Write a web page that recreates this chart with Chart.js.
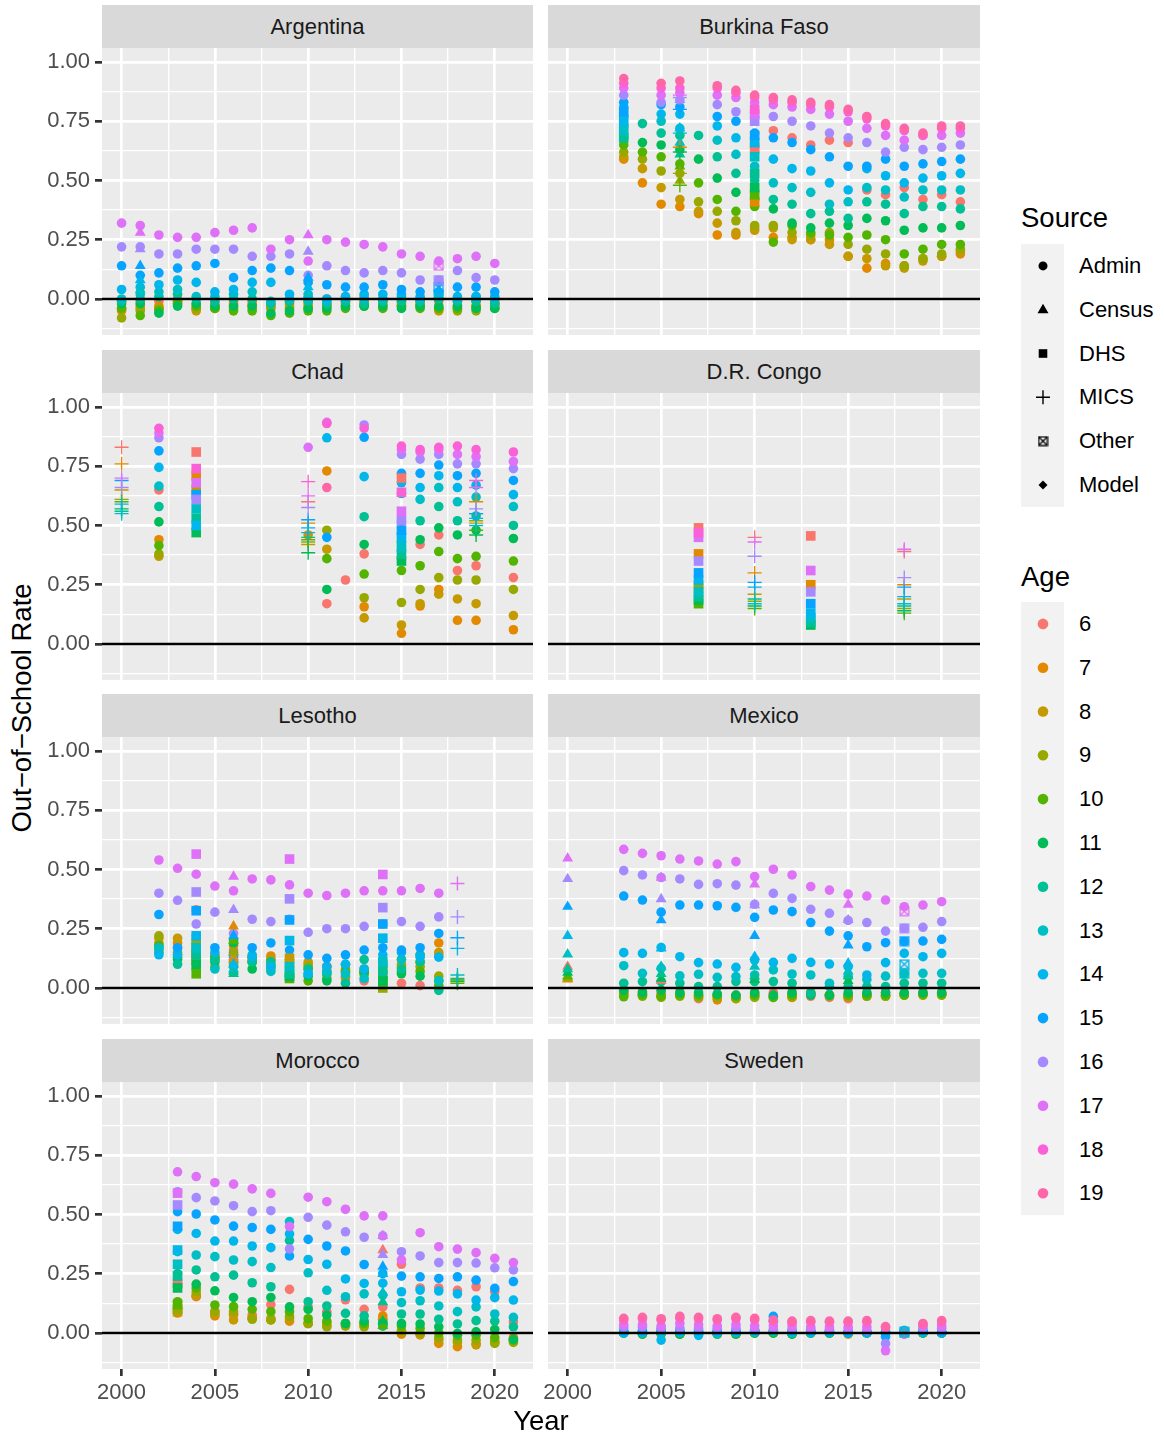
<!DOCTYPE html>
<html>
<head>
<meta charset="utf-8">
<script src="https://cdn.jsdelivr.net/npm/chart.js@4.4.1/dist/chart.umd.min.js"></script>
<style>
  body { margin: 0; background: #fff; width: 1164px; height: 1437px; position: relative; overflow: hidden;
         font-family: "Liberation Sans", Arial, sans-serif; }
  .strip { position: absolute; background: #D9D9D9; color: #1A1A1A; font-size: 22px; text-align: center; height: 43px; line-height: 43px; }
  .txt { position: absolute; white-space: nowrap; }
  canvas { position: absolute; }
</style>
</head>
<body>
<script>
// tick labels / breaks
const xBreaks = [2000, 2005, 2010, 2015, 2020];
const yBreaks = [0, 0.25, 0.5, 0.75, 1];
const ageLevels = [6, 7, 8, 9, 10, 11, 12, 13, 14, 15, 16, 17, 18, 19];
const sourceLevels = ["Admin", "Census", "DHS", "MICS", "Other", "Model"];

// ---- Argentina ----
const argYears = [2000,2001,2002,2003,2004,2005,2006,2007,2008,2009,2010,2011,2012,2013,2014,2015,2016,2017,2018,2019,2020];
const argAges = [6,7,8,9,10,11,12,13,14,15,16,17];
const argAdmin = [
  [-0.01,-0.01,-0.01,0.00,-0.02,-0.02,-0.01,-0.01,-0.02,-0.01,-0.01,0.00,0.01,0.01,0.00,-0.01,-0.01,-0.01,-0.01,-0.01,-0.01],
  [-0.05,-0.03,-0.03,-0.01,-0.04,-0.04,-0.02,-0.03,-0.03,-0.02,-0.02,-0.02,-0.01,-0.01,-0.01,-0.02,-0.02,-0.04,-0.03,-0.03,-0.02],
  [-0.04,-0.04,-0.04,-0.01,-0.05,-0.04,-0.03,-0.02,-0.03,-0.03,-0.03,-0.03,-0.02,-0.02,-0.02,-0.03,-0.03,-0.05,-0.04,-0.04,-0.02],
  [-0.08,-0.05,-0.04,-0.02,-0.04,-0.03,-0.04,-0.04,-0.04,-0.04,-0.04,-0.03,-0.03,-0.03,-0.03,-0.03,-0.03,-0.04,-0.05,-0.05,-0.03],
  [-0.04,-0.07,-0.05,-0.02,-0.03,-0.04,-0.05,-0.05,-0.07,-0.06,-0.05,-0.05,-0.04,-0.03,-0.04,-0.03,-0.04,-0.04,-0.04,-0.03,-0.04],
  [-0.02,-0.02,-0.06,-0.03,-0.02,-0.03,-0.03,-0.03,-0.06,-0.05,-0.04,-0.04,-0.03,-0.03,-0.03,-0.04,-0.03,-0.03,-0.03,-0.04,-0.04],
  [-0.01,0.00,0.01,0.02,0.00,-0.01,0.00,0.00,-0.02,-0.01,-0.01,-0.02,-0.01,-0.02,-0.01,-0.01,-0.01,0.00,-0.01,-0.01,-0.02],
  [0.00,0.02,0.03,0.04,0.01,0.01,0.02,0.03,-0.01,0.00,0.00,-0.01,0.00,0.00,0.00,0.01,0.00,0.02,0.00,0.01,0.00],
  [0.04,0.05,0.06,0.08,0.07,0.03,0.04,0.07,0.07,0.02,0.02,0.00,0.01,0.02,0.02,0.02,0.01,0.03,0.01,0.01,0.01],
  [0.14,0.10,0.11,0.13,0.14,0.15,0.09,0.12,0.13,0.12,0.07,0.06,0.05,0.05,0.06,0.04,0.03,0.07,0.05,0.05,0.03],
  [0.22,0.22,0.19,0.19,0.21,0.21,0.21,0.18,0.18,0.19,0.10,0.14,0.12,0.11,0.12,0.11,0.08,0.08,0.12,0.09,0.08],
  [0.32,0.31,0.27,0.26,0.26,0.28,0.29,0.30,0.21,0.25,0.16,0.25,0.24,0.23,0.22,0.19,0.18,0.16,0.17,0.18,0.15]
];
const argSurvey = [
  ["Census",2001,17,0.28],["Census",2001,16,0.21],["Census",2001,15,0.14],["Census",2001,14,0.08],["Census",2001,13,0.04],
  ["Census",2010,17,0.27],["Census",2010,16,0.20],["Census",2010,15,0.09],["Census",2010,14,0.05],["Census",2010,13,0.02],
  ["Other",2017,17,0.14],["Other",2017,16,0.08],["Other",2017,15,0.05],["Other",2017,14,0.02]
];

// ---- Burkina Faso ----
const bfaYears = [2003,2004,2005,2006,2007,2008,2009,2010,2011,2012,2013,2014,2015,2016,2017,2018,2019,2020,2021];
const bfaAges = [6,7,8,9,10,11,12,13,14,15,16,17,18,19];
const bfaAdmin = [
  [null,null,null,null,null,null,null,0.64,0.71,0.68,0.65,0.67,0.66,0.46,0.44,0.47,0.42,0.44,0.41],
  [0.59,0.49,0.40,0.39,0.36,0.27,0.27,0.30,0.26,0.26,0.25,0.25,0.18,0.13,0.15,0.14,0.17,0.18,0.19],
  [0.60,0.55,0.47,0.42,0.37,0.32,0.28,0.29,0.30,0.25,0.25,0.23,0.18,0.17,0.14,0.13,0.16,0.18,0.20],
  [0.62,0.59,0.54,0.53,0.41,0.37,0.33,0.31,0.31,0.28,0.27,0.28,0.23,0.21,0.19,0.14,0.17,0.19,0.21],
  [0.65,0.62,0.60,0.57,0.49,0.42,0.37,0.39,0.24,0.31,0.28,0.27,0.26,0.27,0.25,0.19,0.21,0.23,0.23],
  [0.68,0.66,0.65,0.63,0.59,0.51,0.45,0.42,0.38,0.32,0.30,0.32,0.31,0.34,0.33,0.29,0.30,0.30,0.31],
  [0.73,0.74,0.70,0.69,0.69,0.60,0.53,0.50,0.42,0.40,0.36,0.37,0.34,0.41,0.40,0.36,0.39,0.39,0.38],
  [0.77,null,0.75,0.72,null,0.67,0.61,0.56,0.49,0.47,0.45,0.40,0.41,0.47,0.46,0.43,0.46,0.46,0.46],
  [0.81,null,0.78,0.78,null,0.73,0.68,0.62,0.59,0.55,0.54,0.49,0.46,0.55,0.52,0.49,0.51,0.52,0.53],
  [0.83,null,0.82,0.81,null,0.77,0.75,0.70,0.68,0.66,0.63,0.60,0.56,0.56,0.59,0.56,0.57,0.58,0.59],
  [0.86,null,0.83,0.84,null,0.82,0.79,0.77,0.77,0.75,0.73,0.70,0.68,0.66,0.62,0.64,0.63,0.64,0.65],
  [0.89,null,0.86,0.87,null,0.86,0.85,0.83,0.82,0.81,0.80,0.78,0.75,0.72,0.69,0.67,0.69,0.69,0.70],
  [0.91,null,0.89,0.89,null,0.89,0.87,0.85,0.84,0.83,0.82,0.81,0.79,0.76,0.73,0.71,0.69,0.72,0.72],
  [0.93,null,0.91,0.92,null,0.90,0.88,0.86,0.85,0.84,0.83,0.82,0.80,0.77,0.74,0.72,0.70,0.73,0.73]
];
const bfaSurvey = [
  ["DHS",2003,15,0.79],["DHS",2003,14,0.75],["DHS",2003,13,0.71],["DHS",2003,12,0.68],
  ["Census",2006,16,0.84],["Census",2006,14,0.72],["Census",2006,13,0.66],["Census",2006,12,0.61],["Census",2006,10,0.56],["Census",2006,9,0.50],
  ["MICS",2006,17,0.86],["MICS",2006,16,0.85],["MICS",2006,15,0.80],["MICS",2006,13,0.70],["MICS",2006,7,0.64],["MICS",2006,11,0.62],["MICS",2006,9,0.53],["MICS",2006,10,0.48],
  ["DHS",2010,18,0.80],["DHS",2010,17,0.78],["DHS",2010,16,0.75],["DHS",2010,15,0.69],["DHS",2010,14,0.66],["DHS",2010,6,0.64],
  ["DHS",2010,13,0.60],["DHS",2010,12,0.53],["DHS",2010,11,0.47],["DHS",2010,10,0.44],["DHS",2010,7,0.41]
];

// ---- Chad ----
const tcdYears = [2002,2010,2011,2012,2013,2015,2016,2017,2018,2019,2021];
const tcdAges = [6,7,8,9,10,11,12,13,14,15,16,17,18,19];
const tcdAdmin = [
  [0.65,null,0.17,0.27,0.38,0.36,0.42,0.46,0.31,0.33,0.28],
  [0.44,0.46,0.73,null,0.157,0.045,0.16,0.23,0.10,0.10,0.06],
  [0.37,null,0.40,null,0.11,0.08,0.17,0.21,0.19,0.17,0.12],
  [0.38,null,0.48,null,0.195,0.175,0.23,0.28,0.27,0.27,0.23],
  [0.415,null,0.36,null,0.295,0.31,0.33,0.39,0.36,0.37,0.35],
  [0.515,null,0.23,null,0.42,0.43,0.44,0.49,0.46,0.48,0.445],
  [0.58,null,null,null,0.537,0.516,0.52,0.58,0.52,0.54,0.50],
  [0.666,null,null,null,null,0.635,0.61,0.66,0.60,0.62,0.58],
  [0.745,null,0.87,null,0.706,0.68,0.66,0.71,0.66,0.67,0.63],
  [0.815,null,0.45,null,0.872,0.72,0.72,0.755,0.71,0.72,0.69],
  [0.87,null,null,null,0.924,0.80,0.78,0.80,0.76,0.76,0.74],
  [0.89,0.83,0.935,null,null,0.82,0.81,0.82,0.80,0.79,0.77],
  [0.91,null,0.93,null,0.91,0.835,0.82,0.83,0.835,0.82,0.81],
  [null,null,0.66,null,null,null,null,null,null,null,null]
];
const tcdSurvey = [
  ["MICS",2000,6,0.83],["MICS",2000,7,0.76],["MICS",2000,17,0.70],["MICS",2000,15,0.69],["MICS",2000,16,0.66],["MICS",2000,8,0.65],
  ["MICS",2000,9,0.61],["MICS",2000,10,0.60],["MICS",2000,14,0.59],["MICS",2000,11,0.57],["MICS",2000,12,0.56],["MICS",2000,13,0.55],
  ["DHS",2004,6,0.81],["DHS",2004,18,0.74],["DHS",2004,7,0.71],["DHS",2004,17,0.68],["DHS",2004,8,0.65],["DHS",2004,15,0.63],
  ["DHS",2004,16,0.61],["DHS",2004,13,0.57],["DHS",2004,12,0.53],["DHS",2004,14,0.50],["DHS",2004,11,0.47],
  ["MICS",2010,18,0.685],["MICS",2010,17,0.625],["MICS",2010,6,0.60],["MICS",2010,16,0.576],["MICS",2010,15,0.524],["MICS",2010,7,0.51],
  ["MICS",2010,14,0.49],["MICS",2010,13,0.47],["MICS",2010,12,0.45],["MICS",2010,10,0.44],["MICS",2010,9,0.43],["MICS",2010,8,0.42],["MICS",2010,11,0.385],
  ["DHS",2015,6,0.70],["DHS",2015,18,0.64],["DHS",2015,17,0.56],["DHS",2015,16,0.52],["DHS",2015,15,0.48],["DHS",2015,14,0.45],
  ["DHS",2015,13,0.41],["DHS",2015,12,0.38],["DHS",2015,11,0.35],
  ["MICS",2019,18,0.69],["MICS",2019,17,0.66],["MICS",2019,7,0.60],["MICS",2019,16,0.57],["MICS",2019,15,0.55],["MICS",2019,12,0.55],
  ["MICS",2019,14,0.53],["MICS",2019,9,0.52],["MICS",2019,8,0.51],["MICS",2019,13,0.50],["MICS",2019,10,0.48],["MICS",2019,11,0.46]
];

// ---- D.R. Congo ----
const codYears = [];
const codAges = [];
const codAdmin = [];
const codSurvey = [
  ["DHS",2007,6,0.49],["DHS",2007,18,0.47],["DHS",2007,17,0.45],["DHS",2007,7,0.38],["DHS",2007,16,0.35],["DHS",2007,15,0.30],
  ["DHS",2007,14,0.27],["DHS",2007,8,0.25],["DHS",2007,9,0.235],["DHS",2007,13,0.22],["DHS",2007,12,0.20],["DHS",2007,11,0.185],["DHS",2007,10,0.17],
  ["MICS",2010,6,0.45],["MICS",2010,17,0.43],["MICS",2010,16,0.37],["MICS",2010,7,0.30],["MICS",2010,15,0.26],["MICS",2010,14,0.24],
  ["MICS",2010,8,0.21],["MICS",2010,12,0.19],["MICS",2010,9,0.18],["MICS",2010,13,0.17],["MICS",2010,11,0.16],["MICS",2010,10,0.15],
  ["DHS",2013,6,0.456],["DHS",2013,17,0.31],["DHS",2013,7,0.25],["DHS",2013,16,0.22],["DHS",2013,15,0.17],["DHS",2013,14,0.13],
  ["DHS",2013,13,0.11],["DHS",2013,12,0.09],["DHS",2013,11,0.08],
  ["MICS",2018,17,0.40],["MICS",2018,6,0.39],["MICS",2018,16,0.28],["MICS",2018,7,0.25],["MICS",2018,15,0.24],["MICS",2018,14,0.20],
  ["MICS",2018,8,0.19],["MICS",2018,13,0.17],["MICS",2018,12,0.16],["MICS",2018,9,0.15],["MICS",2018,11,0.14],["MICS",2018,10,0.13]
];

// ---- Lesotho ----
const lsoYears = [2002,2003,2004,2005,2006,2007,2008,2009,2010,2011,2012,2013,2014,2015,2016,2017];
const lsoAges = [6,7,8,9,10,11,12,13,14,15,16,17];
const lsoAdmin = [
  [0.16,0.17,0.33,0.14,0.16,0.13,0.12,0.10,0.08,0.07,0.04,0.03,0.04,0.02,0.01,0.14],
  [0.19,0.19,0.17,0.13,0.18,0.11,0.135,0.09,0.10,0.09,0.08,0.07,0.10,0.12,0.14,0.19],
  [0.21,0.21,0.15,0.12,0.10,0.12,0.12,0.12,0.11,0.09,0.07,0.06,0.09,0.10,0.11,0.15],
  [0.22,0.15,0.12,0.09,0.15,0.13,0.08,0.12,0.09,0.06,0.05,0.08,0.07,0.09,0.09,0.05],
  [0.18,0.13,0.08,0.13,0.20,0.11,0.10,0.06,0.03,0.04,0.07,0.06,0.04,0.07,0.07,0.01],
  [0.17,0.12,0.13,0.11,0.19,0.08,0.09,0.05,0.05,0.03,0.10,0.07,0.05,0.06,0.05,0.03],
  [0.15,0.10,0.10,0.12,0.09,0.11,0.11,0.09,0.08,0.06,0.02,0.12,0.06,0.08,0.11,-0.01],
  [0.17,0.14,0.14,0.08,0.11,0.14,0.07,0.11,0.06,0.07,0.06,0.04,0.11,0.12,0.14,0.03],
  [0.14,0.14,0.19,0.15,0.13,0.13,0.09,0.08,0.06,0.09,0.10,0.08,0.14,0.15,0.13,0.13],
  [0.31,0.17,0.22,0.17,0.14,0.17,0.19,0.16,0.14,0.125,0.14,0.16,0.17,0.16,0.17,0.23],
  [0.40,0.37,0.27,0.32,0.23,0.29,0.28,0.29,0.235,0.25,0.25,0.26,0.27,0.28,0.26,0.30],
  [0.54,0.505,0.48,0.43,0.41,0.46,0.456,0.435,0.40,0.39,0.40,0.41,0.41,0.41,0.42,0.40]
];
const lsoSurvey = [
  ["DHS",2004,17,0.565],["DHS",2004,16,0.405],["DHS",2004,15,0.326],["DHS",2004,14,0.22],["DHS",2004,9,0.19],["DHS",2004,13,0.17],
  ["DHS",2004,7,0.15],["DHS",2004,12,0.14],["DHS",2004,8,0.12],["DHS",2004,11,0.10],["DHS",2004,10,0.06],
  ["Census",2006,17,0.47],["Census",2006,16,0.33],["Census",2006,7,0.26],["Census",2006,15,0.22],["Census",2006,10,0.20],["Census",2006,9,0.15],
  ["Census",2006,6,0.13],["Census",2006,8,0.12],["Census",2006,14,0.10],["Census",2006,13,0.08],["Census",2006,11,0.07],["Census",2006,12,0.06],
  ["DHS",2009,17,0.544],["DHS",2009,16,0.376],["DHS",2009,15,0.287],["DHS",2009,14,0.20],["DHS",2009,8,0.125],["DHS",2009,13,0.09],
  ["DHS",2009,12,0.06],["DHS",2009,11,0.05],["DHS",2009,10,0.04],
  ["DHS",2014,17,0.479],["DHS",2014,16,0.339],["DHS",2014,15,0.27],["DHS",2014,14,0.21],["DHS",2014,13,0.11],["DHS",2014,12,0.08],
  ["DHS",2014,11,0.03],["DHS",2014,10,0.02],["DHS",2014,9,0.0],
  ["MICS",2018,17,0.441],["MICS",2018,16,0.30],["MICS",2018,15,0.212],["MICS",2018,14,0.167],["MICS",2018,13,0.055],["MICS",2018,12,0.04],
  ["MICS",2018,9,0.035],["MICS",2018,8,0.03],["MICS",2018,11,0.028],["MICS",2018,10,0.02]
];

// ---- Mexico ----
const mexYears = [2003,2004,2005,2006,2007,2008,2009,2010,2011,2012,2013,2014,2015,2016,2017,2018,2019,2020];
const mexAges = [6,7,8,9,10,11,12,13,14,15,16,17];
const mexAdmin = [
  [-0.015,-0.015,-0.02,-0.02,-0.045,-0.03,-0.03,-0.02,-0.02,-0.02,-0.035,-0.04,-0.045,-0.025,-0.02,-0.03,-0.02,-0.02],
  [-0.02,-0.025,-0.03,-0.025,-0.03,-0.05,-0.045,-0.03,-0.03,-0.04,-0.025,-0.03,-0.04,-0.03,-0.03,-0.025,-0.025,-0.025],
  [-0.025,-0.03,-0.035,-0.03,-0.035,-0.035,-0.04,-0.035,-0.035,-0.04,-0.025,-0.03,-0.03,-0.035,-0.035,-0.025,-0.03,-0.03],
  [-0.03,-0.035,-0.04,-0.035,-0.04,-0.04,-0.045,-0.04,-0.04,-0.035,-0.025,-0.035,-0.035,-0.035,-0.035,-0.03,-0.03,-0.03],
  [-0.037,-0.03,-0.035,-0.03,-0.03,-0.03,-0.035,-0.03,-0.04,-0.03,-0.02,-0.03,-0.03,-0.03,-0.03,-0.03,-0.025,-0.025],
  [-0.01,-0.02,-0.01,-0.02,-0.02,-0.025,-0.03,-0.02,-0.03,-0.02,-0.03,-0.03,-0.02,-0.02,-0.02,-0.02,-0.02,-0.02],
  [0.02,0.027,0.027,0.02,0.006,0.006,0.027,0.027,0.027,0.02,-0.022,0.006,0.006,0.006,0.006,0.02,0.02,0.02],
  [0.094,0.062,0.083,0.051,0.058,0.045,0.048,0.055,0.076,0.059,0.055,0.02,0.048,0.036,0.05,0.06,0.062,0.062],
  [0.149,0.146,0.171,0.132,0.107,0.101,0.087,0.118,0.108,0.125,0.108,0.101,0.09,0.055,0.107,0.146,0.132,0.146],
  [0.388,0.371,0.32,0.35,0.35,0.347,0.34,0.298,0.329,0.322,0.276,0.24,0.22,0.174,0.191,0.196,0.198,0.205],
  [0.495,0.477,0.466,0.46,0.437,0.44,0.434,0.353,0.399,0.378,0.332,0.315,0.285,0.276,0.24,0.252,0.256,0.28],
  [0.585,0.568,0.558,0.544,0.536,0.523,0.533,0.47,0.501,0.477,0.428,0.413,0.396,0.388,0.371,0.343,0.35,0.364]
];
const mexSurvey = [
  ["Census",2000,17,0.547],["Census",2000,16,0.46],["Census",2000,15,0.343],["Census",2000,14,0.22],["Census",2000,13,0.142],["Census",2000,6,0.09],
  ["Census",2000,12,0.08],["Census",2000,11,0.065],["Census",2000,10,0.05],["Census",2000,9,0.045],["Census",2000,8,0.04],["Census",2000,7,0.036],
  ["Census",2005,17,0.466],["Census",2005,16,0.375],["Census",2005,15,0.286],["Census",2005,14,0.167],["Census",2005,13,0.09],["Census",2005,12,0.06],
  ["Census",2005,11,0.04],["Census",2005,6,0.031],
  ["Census",2010,17,0.437],["Census",2010,16,0.35],["Census",2010,15,0.22],["Census",2010,14,0.132],["Census",2010,13,0.09],["Census",2010,12,0.05],["Census",2010,11,0.034],
  ["Census",2015,17,0.352],["Census",2015,16,0.287],["Census",2015,15,0.18],["Census",2015,14,0.104],["Census",2015,13,0.07],["Census",2015,12,0.05],["Census",2015,11,0.03],
  ["Other",2018,17,0.324],["Other",2018,16,0.252],["Other",2018,15,0.198],["Other",2018,14,0.10],["Other",2018,13,0.06]
];

// ---- Morocco ----
const marYears = [2003,2004,2005,2006,2007,2008,2009,2010,2011,2012,2013,2014,2015,2016,2017,2018,2019,2020,2021];
const marAges = [6,7,8,9,10,11,12,13,14,15,16,17];
const marAdmin = [
  [0.21,0.153,0.09,0.08,0.076,0.12,0.184,0.11,0.09,0.14,0.10,0.11,0.29,0.19,0.19,0.18,0.195,0.174,0.047],
  [0.084,0.155,0.072,0.076,0.065,0.055,0.05,0.04,0.04,0.04,0.04,0.072,-0.005,-0.008,-0.044,-0.058,-0.045,-0.035,-0.02],
  [0.09,0.16,0.08,0.055,0.06,0.06,0.06,0.04,0.03,0.03,0.03,0.03,0.005,-0.005,-0.03,-0.04,-0.05,-0.04,-0.03],
  [0.10,0.174,0.09,0.09,0.058,0.055,0.07,0.04,0.026,0.03,0.026,0.03,0.01,0.0,-0.02,-0.03,-0.03,-0.044,-0.04],
  [0.132,0.19,0.118,0.111,0.10,0.09,0.09,0.06,0.05,0.04,0.04,0.04,0.03,0.02,0.0,-0.01,-0.01,-0.02,-0.03],
  [0.195,0.206,0.178,0.15,0.132,0.15,0.11,0.10,0.076,0.04,0.05,0.05,0.04,0.038,0.026,-0.002,0.005,0.015,-0.027],
  [0.251,0.266,0.237,0.244,0.212,0.195,0.39,0.132,0.114,0.083,0.072,0.03,0.08,0.08,0.058,0.038,0.052,0.05,0.026],
  [0.343,0.329,0.322,0.308,0.301,0.276,0.47,0.254,0.18,0.153,0.165,0.16,0.128,0.136,0.114,0.09,0.11,0.08,0.066],
  [0.437,0.42,0.388,0.388,0.367,0.36,0.418,0.31,0.29,0.228,0.209,0.21,0.174,0.181,0.177,0.165,0.139,0.149,0.139],
  [0.512,0.502,0.477,0.451,0.445,0.437,0.325,0.395,0.367,0.346,0.289,0.25,0.24,0.237,0.23,0.237,0.223,0.188,0.217],
  [0.596,0.571,0.557,0.537,0.512,0.516,0.355,0.488,0.455,0.427,0.404,0.41,0.343,0.325,0.297,0.297,0.295,0.275,0.266],
  [0.68,0.66,0.634,0.628,0.608,0.589,0.449,0.573,0.554,0.522,0.494,0.494,0.308,0.423,0.364,0.354,0.339,0.315,0.297]
];
const marSurvey = [
  ["DHS",2003,17,0.59],["DHS",2003,16,0.54],["DHS",2003,15,0.45],["DHS",2003,14,0.35],["DHS",2003,13,0.29],["DHS",2003,12,0.24],
  ["DHS",2003,6,0.21],["DHS",2003,11,0.19],["DHS",2003,10,0.12],["DHS",2003,9,0.10],["DHS",2003,8,0.09],
  ["Census",2014,17,0.41],["Census",2014,6,0.35],["Census",2014,16,0.33],["Census",2014,15,0.28],["Census",2014,14,0.25],["Census",2014,13,0.17],
  ["Census",2014,12,0.13],["Census",2014,7,0.07],["Census",2014,11,0.05],["Census",2014,10,0.03]
];

// ---- Sweden ----
const sweYears = [2003,2004,2005,2006,2007,2008,2009,2010,2011,2012,2013,2014,2015,2016,2017,2018,2019,2020];
const sweAges = [6,7,8,9,10,11,12,13,14,15,16,17,18,19];
const sweAdmin = [
  [0.0,0.0,0.0,0.0,0.0,0.0,0.0,0.0,0.0,0.0,0.0,0.0,0.0,0.0,0.0,0.0,0.0,0.0],
  [0.0,-0.005,0.0,-0.005,0.0,-0.005,-0.005,0.0,0.0,0.0,0.0,0.0,-0.005,0.0,0.0,0.0,0.0,0.0],
  [0.0,0.0,0.0,0.0,0.0,-0.005,-0.005,0.0,0.0,0.0,0.0,0.0,0.0,0.0,0.0,0.0,0.0,0.0],
  [0.0,0.0,-0.005,0.0,0.0,0.0,0.0,0.0,0.0,0.0,0.0,0.0,0.0,0.0,0.0,0.0,0.0,0.0],
  [0.0,0.0,0.0,-0.005,0.0,0.0,0.0,0.0,0.0,-0.005,0.0,0.0,0.0,0.0,0.0,0.0,0.0,0.0],
  [0.0,-0.005,0.0,-0.005,0.0,0.0,-0.005,0.0,0.0,-0.005,0.0,0.0,0.0,0.0,0.0,0.0,0.0,0.0],
  [0.0,0.0,0.005,0.0,0.0,-0.005,0.0,0.0,0.005,0.0,0.0,0.0,0.0,0.0,0.0,0.005,0.0,0.0],
  [0.0,0.0,0.0,0.005,0.0,0.0,0.005,0.005,0.01,0.0,0.0,0.005,0.0,0.0,0.005,0.01,0.005,0.0],
  [0.0,0.005,-0.03,0.005,-0.01,0.005,0.005,0.01,0.05,0.005,0.005,0.005,0.0,0.0,0.0,0.01,0.005,0.0],
  [0.01,0.01,0.015,0.01,0.01,0.01,0.01,0.01,0.07,0.01,0.01,0.01,0.005,0.005,-0.015,0.005,0.01,0.005],
  [0.025,0.025,0.02,0.02,0.02,0.02,0.02,0.015,0.015,0.015,0.015,0.015,0.015,0.01,-0.045,-0.005,0.02,0.02],
  [0.035,0.035,0.03,0.04,0.035,0.03,0.035,0.03,0.03,0.03,0.025,0.025,0.025,0.025,-0.075,-0.005,0.03,0.03],
  [0.055,0.06,0.055,0.062,0.06,0.055,0.06,0.055,0.05,0.045,0.045,0.045,0.045,0.045,0.022,0.0,0.035,0.046],
  [0.062,0.066,0.06,0.07,0.066,0.06,0.066,0.062,0.055,0.05,0.052,0.05,0.05,0.052,0.027,0.005,0.04,0.052]
];
const sweSurvey = [
  ["Other",2018,14,0.005],["Other",2018,13,0.0]
];

const agePalette = ["#F8766D","#E38900","#C49A00","#99A800","#53B400","#00BC56","#00C094",
                    "#00BFC4","#00B6EB","#06A4FF","#A58AFF","#DF70F8","#FB61D7","#FF66A8"];

// panel geometry
const colLeft = [102, 548];
const colWidth = [431, 432];
const rowTop = [48, 393, 737, 1082];
const panelH = 287;
const yAxisW = [62, 12];   // right column keeps a thin margin so the first x label is not cut
const xAxisH = 48;
const xMin = 1998.95, xMax = 2022.05;
const yMin = -0.152, yMax = 1.059;
const FONT = "'Liberation Sans', Arial, sans-serif";

const xMinor = xBreaks.slice(1).map((b, i) => (b + xBreaks[i]) / 2);
const yMinor = [yBreaks[0] - 0.125].concat(yBreaks.slice(1).map((b, i) => (b + yBreaks[i]) / 2));
const xTicks = xBreaks.concat(xMinor).sort((a, b) => a - b);
const yTicks = yBreaks.concat(yMinor).sort((a, b) => a - b);

const boxXCache = {};
function boxX(color, size) {
  const key = color + size;
  if (boxXCache[key]) return boxXCache[key];
  const c = document.createElement("canvas");
  c.width = size; c.height = size;
  const g = c.getContext("2d");
  g.strokeStyle = color; g.lineWidth = 1.3;
  const p = 1.2, s = size - 2 * p;
  g.strokeRect(p, p, s, s);
  g.beginPath();
  g.moveTo(p, p); g.lineTo(p + s, p + s);
  g.moveTo(p + s, p); g.lineTo(p, p + s);
  g.stroke();
  boxXCache[key] = c;
  return c;
}

function pointOpts(source, color) {
  switch (source) {
    case "Census": return { pointStyle: "triangle", pointRadius: 6.3, backgroundColor: color, borderWidth: 0 };
    case "DHS": return { pointStyle: "rect", pointRadius: 6.8, backgroundColor: color, borderWidth: 0 };
    case "MICS": return { pointStyle: "cross", pointRadius: 7, borderColor: color, borderWidth: 1.4 };
    case "Other": return { pointStyle: boxX(color, 11), pointRadius: 5.5 };
    case "Model": return { pointStyle: "rectRot", pointRadius: 4, backgroundColor: color, borderWidth: 0 };
    default: return { pointStyle: "circle", pointRadius: 4.8, backgroundColor: color, borderWidth: 0 };
  }
}

const panelPlugin = {
  id: "panelDeco",
  beforeDraw(chart) {
    const a = chart.chartArea, c = chart.ctx;
    c.save();
    c.fillStyle = "#EBEBEB";
    c.fillRect(a.left, a.top, a.right - a.left, a.bottom - a.top);
    c.restore();
  },
  afterDatasetsDraw(chart) {
    const a = chart.chartArea, c = chart.ctx;
    const y = chart.scales.y.getPixelForValue(0);
    c.save();
    c.strokeStyle = "#000000";
    c.lineWidth = 2.7;
    c.beginPath();
    c.moveTo(a.left, y); c.lineTo(a.right, y);
    c.stroke();
    c.restore();
  }
};

function buildPanel(name, col, row, years, ages, admin, survey) {
  const bottom = row === 3;
  const left = col === 0;
  const yw = yAxisW[col];

  const strip = document.createElement("div");
  strip.className = "strip";
  strip.style.left = colLeft[col] + "px";
  strip.style.top = (rowTop[row] - 43) + "px";
  strip.style.width = colWidth[col] + "px";
  strip.textContent = name;
  document.body.appendChild(strip);

  const cv = document.createElement("canvas");
  const w = colWidth[col] + yw;
  const h = panelH + (bottom ? xAxisH : 0);
  cv.width = w; cv.height = h;
  cv.style.width = w + "px"; cv.style.height = h + "px";
  cv.style.left = (colLeft[col] - yw) + "px";
  cv.style.top = rowTop[row] + "px";
  document.body.appendChild(cv);

  const datasets = [];
  // survey points first so they sit on top of the admin series
  ["Other", "MICS", "DHS", "Census"].forEach(src => {
    for (let k = ageLevels.length - 1; k >= 0; k--) {
      const age = ageLevels[k];
      const pts = survey.filter(s => s[0] === src && s[2] === age).map(s => ({ x: s[1], y: s[3] }));
      if (!pts.length) continue;
      datasets.push(Object.assign({ label: src + " " + age, data: pts, order: 1 }, pointOpts(src, agePalette[k])));
    }
  });
  for (let k = ages.length - 1; k >= 0; k--) {
    const age = ages[k];
    const ci = ageLevels.indexOf(age);
    const pts = years.map((yr, i) => ({ x: yr, y: admin[k][i] })).filter(p => p.y !== null);
    datasets.push(Object.assign({ label: "Admin " + age, data: pts, order: 2 }, pointOpts("Admin", agePalette[ci])));
  }

  new Chart(cv, {
    type: "scatter",
    data: { datasets },
    options: {
      responsive: false,
      animation: false,
      devicePixelRatio: 1,
      events: [],
      layout: { padding: 0, autoPadding: false },
      plugins: { legend: { display: false }, tooltip: { enabled: false } },
      scales: {
        x: {
          type: "linear", min: xMin, max: xMax,
          afterBuildTicks: s => { s.ticks = xTicks.map(v => ({ value: v })); },
          afterFit: s => { s.height = bottom ? xAxisH : 0; s.paddingLeft = 0; s.paddingRight = 0; },
          border: { display: false },
          grid: {
            color: "#FFFFFF",
            lineWidth: c => xBreaks.includes(c.tick.value) ? 2.7 : 1.35,
            drawTicks: bottom,
            tickLength: 7,
            tickWidth: 2.7,
            tickColor: c => xBreaks.includes(c.tick.value) ? "#333333" : "rgba(0,0,0,0)"
          },
          ticks: {
            display: bottom, autoSkip: false, maxRotation: 0, minRotation: 0, padding: 4,
            color: "#4D4D4D", font: { family: FONT, size: 22 },
            callback: v => xBreaks.includes(v) ? String(v) : ""
          }
        },
        y: {
          type: "linear", min: yMin, max: yMax,
          afterBuildTicks: s => { s.ticks = yTicks.map(v => ({ value: v })); },
          afterFit: s => { s.width = yw; s.paddingTop = 0; s.paddingBottom = 0; },
          border: { display: false },
          grid: {
            color: "#FFFFFF",
            lineWidth: c => yBreaks.includes(c.tick.value) ? 2.7 : 1.35,
            drawTicks: left,
            tickLength: 7,
            tickWidth: 2.7,
            tickColor: c => yBreaks.includes(c.tick.value) ? "#333333" : "rgba(0,0,0,0)"
          },
          ticks: {
            display: left, autoSkip: false, padding: 5,
            color: "#4D4D4D", font: { family: FONT, size: 22 },
            callback: v => yBreaks.includes(v) ? v.toFixed(2) : ""
          }
        }
      }
    },
    plugins: [panelPlugin]
  });
}

buildPanel("Argentina", 0, 0, argYears, argAges, argAdmin, argSurvey);
buildPanel("Burkina Faso", 1, 0, bfaYears, bfaAges, bfaAdmin, bfaSurvey);
buildPanel("Chad", 0, 1, tcdYears, tcdAges, tcdAdmin, tcdSurvey);
buildPanel("D.R. Congo", 1, 1, codYears, codAges, codAdmin, codSurvey);
buildPanel("Lesotho", 0, 2, lsoYears, lsoAges, lsoAdmin, lsoSurvey);
buildPanel("Mexico", 1, 2, mexYears, mexAges, mexAdmin, mexSurvey);
buildPanel("Morocco", 0, 3, marYears, marAges, marAdmin, marSurvey);
buildPanel("Sweden", 1, 3, sweYears, sweAges, sweAdmin, sweSurvey);

// axis titles and legend text
function addText(txt, x, y, size, color, rotate) {
  const d = document.createElement("div");
  d.className = "txt";
  d.textContent = txt;
  d.style.fontSize = size + "px";
  d.style.color = color;
  d.style.left = x + "px";
  d.style.top = y + "px";
  d.style.lineHeight = "1";
  d.style.transform = rotate ? "translate(-50%,-50%) rotate(-90deg)" : "translate(0,-50%)";
  document.body.appendChild(d);
  return d;
}
addText("Out\u2212of\u2212School Rate", 22, 708, 27.5, "#000000", true);
const xt = addText("Year", 541, 1421, 27.5, "#000000", false);
xt.style.transform = "translate(-50%,-50%)";

// legend
const keyStep = 43.8;
const srcTop = 244, ageTop = 602;
addText("Source", 1021, 218, 27.5, "#000000", false);
addText("Age", 1021, 577, 27.5, "#000000", false);
sourceLevels.forEach((s, i) => addText(s, 1079, srcTop + keyStep * (i + 0.5), 22, "#000000", false));
ageLevels.forEach((a, i) => addText(String(a), 1079, ageTop + keyStep * (i + 0.5), 22, "#000000", false));

const lg = document.createElement("canvas");
lg.width = 60; lg.height = 1000;
lg.style.left = "1010px"; lg.style.top = "230px";
document.body.appendChild(lg);
const g = lg.getContext("2d");
const ox = 1010, oy = 230;
g.fillStyle = "#F2F2F2";
g.fillRect(1021 - ox, srcTop - oy, 43, keyStep * sourceLevels.length);
g.fillRect(1021 - ox, ageTop - oy, 43, keyStep * ageLevels.length);
const cx = 1043 - ox;
sourceLevels.forEach((s, i) => {
  const cy = srcTop - oy + keyStep * (i + 0.5);
  g.fillStyle = "#000"; g.strokeStyle = "#000"; g.lineWidth = 1.4;
  g.beginPath();
  if (s === "Admin") { g.arc(cx, cy, 4.5, 0, Math.PI * 2); g.fill(); }
  else if (s === "Census") { g.moveTo(cx, cy - 6); g.lineTo(cx + 5.5, cy + 3.6); g.lineTo(cx - 5.5, cy + 3.6); g.closePath(); g.fill(); }
  else if (s === "DHS") { g.fillRect(cx - 4.3, cy - 4.3, 8.6, 8.6); }
  else if (s === "MICS") { g.moveTo(cx - 7, cy); g.lineTo(cx + 7, cy); g.moveTo(cx, cy - 7); g.lineTo(cx, cy + 7); g.stroke(); }
  else if (s === "Other") { g.drawImage(boxX("#000000", 11), cx - 5.5, cy - 5.5); }
  else { g.moveTo(cx, cy - 4.5); g.lineTo(cx + 4.5, cy); g.lineTo(cx, cy + 4.5); g.lineTo(cx - 4.5, cy); g.closePath(); g.fill(); }
});
ageLevels.forEach((a, i) => {
  const cy = ageTop - oy + keyStep * (i + 0.5);
  g.fillStyle = agePalette[i];
  g.beginPath(); g.arc(cx, cy, 5.3, 0, Math.PI * 2); g.fill();
});
</script>
</body>
</html>
